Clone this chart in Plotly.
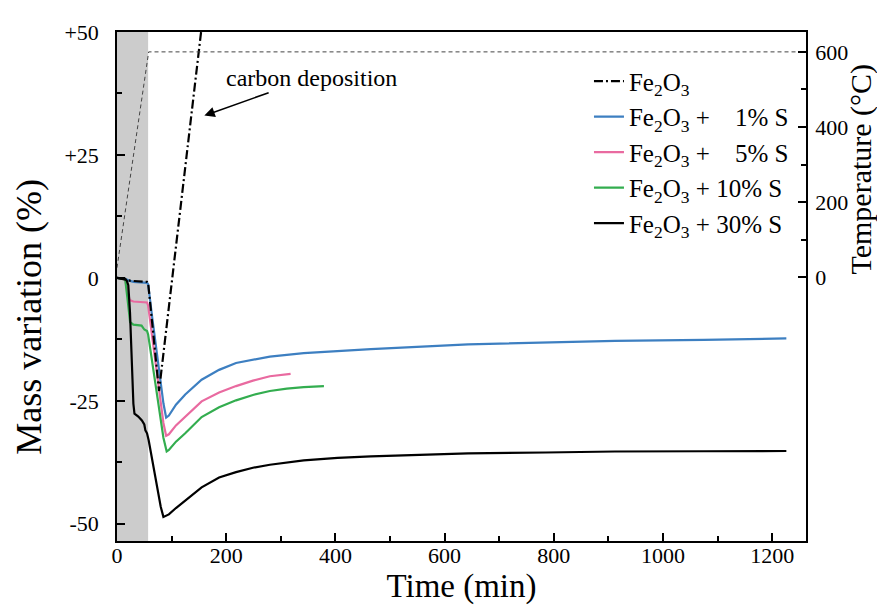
import plotly.graph_objects as go

# ---------------- data ----------------
# Temperature programme (right axis, °C)
temp_t = [0, 58, 1262]
temp_c = [25, 600, 600]

# Fe2O3 (dash-dot)
fe_t = [0, 15, 25, 55, 57, 77, 154]
fe_m = [0, -0.3, -0.6, -0.8, -1.0, -23.0, 50.0]

# Fe2O3 + 1% S
s1_t = [0, 15, 21, 30, 55, 57, 65, 75, 85, 90, 95, 108, 125, 155, 187, 218, 280, 342, 465, 643, 785, 912, 1075, 1226]
s1_m = [0, -0.2, -0.5, -0.8, -1.0, -1.3, -8.5, -17.5, -25.5, -28.4, -28.0, -25.8, -23.7, -20.7, -18.7, -17.3, -16.0, -15.3, -14.5, -13.5, -13.1, -12.8, -12.6, -12.3]

# Fe2O3 + 5% S
s5_t = [0, 15, 19, 23, 30, 55, 57, 65, 75, 85, 90, 95, 108, 125, 155, 187, 218, 249, 280, 318]
s5_m = [0, -0.3, -2.5, -4.5, -4.8, -5.0, -5.6, -12.5, -21.5, -29.5, -32.1, -31.8, -30.0, -28.3, -25.1, -23.3, -22.0, -20.9, -20.0, -19.5]

# Fe2O3 + 10% S
s10_t = [0, 15, 19, 24, 30, 45, 50, 55, 57, 65, 75, 85, 91, 95, 108, 125, 155, 187, 218, 249, 280, 311, 342, 379]
s10_m = [0, -0.3, -4.0, -9.0, -9.5, -9.7, -10.5, -10.8, -11.5, -17.5, -25.5, -32.5, -35.3, -35.0, -33.3, -31.6, -28.3, -26.3, -24.9, -23.8, -23.0, -22.5, -22.2, -22.0]

# Fe2O3 + 30% S
s30_t = [0, 15, 18, 20.7, 23.8, 26.9, 30, 32, 39, 45.6, 50, 52, 55, 58, 70, 80, 85, 95, 108, 125, 155, 187, 218, 249, 280, 342, 404, 465, 552, 643, 785, 912, 1075, 1226]
s30_m = [0, -0.2, -0.6, -1.5, -7.0, -17.0, -25.6, -27.6, -28.2, -29.0, -29.8, -31.0, -31.6, -33.0, -40.5, -46.5, -48.6, -48.1, -46.8, -45.3, -42.6, -40.6, -39.5, -38.6, -38.0, -37.1, -36.6, -36.3, -36.0, -35.7, -35.5, -35.3, -35.25, -35.2]

# shaded heating period (min)
heat_end = 57

# axis ticks
x_major = [0, 200, 400, 600, 800, 1000, 1200]
x_minor = [100, 300, 500, 700, 900, 1100]
y_major = [50, 25, 0, -25, -50]
y_labels = ["+50", "+25", "0", "-25", "-50"]
y_minor = [37.5, 12.5, -12.5, -37.5]
t_major = [0, 200, 400, 600]
t_minor = [100, 300, 500]

FONT = "Liberation Serif, Times New Roman, serif"
BLUE = "#3d7fc1"
PINK = "#e96aa0"
GREEN = "#33ad4f"
TICKFONT = 22

fig = go.Figure()

fig.add_trace(go.Scatter(x=temp_t, y=temp_c, yaxis="y2", mode="lines",
                         line=dict(color="#444444", width=1, dash="4px,3px"),
                         showlegend=False, hoverinfo="skip"))

fig.add_trace(go.Scatter(x=s1_t, y=s1_m, mode="lines", line=dict(color=BLUE, width=2.2),
                         name="Fe<sub>2</sub>O<sub>3</sub> +\u00a0\u00a0\u00a0 1% S", legendrank=2))
fig.add_trace(go.Scatter(x=s5_t, y=s5_m, mode="lines", line=dict(color=PINK, width=2.2),
                         name="Fe<sub>2</sub>O<sub>3</sub> +\u00a0\u00a0\u00a0 5% S", legendrank=3))
fig.add_trace(go.Scatter(x=s10_t, y=s10_m, mode="lines", line=dict(color=GREEN, width=2.2),
                         name="Fe<sub>2</sub>O<sub>3</sub> + 10% S", legendrank=4))
fig.add_trace(go.Scatter(x=s30_t, y=s30_m, mode="lines", line=dict(color="black", width=2.2),
                         name="Fe<sub>2</sub>O<sub>3</sub> + 30% S", legendrank=5))
fig.add_trace(go.Scatter(x=fe_t, y=fe_m, mode="lines",
                         line=dict(color="black", width=2.2, dash="9px,3px,2px,3px"),
                         name="Fe<sub>2</sub>O<sub>3</sub>", legendrank=1))

fig.add_shape(type="rect", xref="x", yref="paper", x0=0, x1=heat_end, y0=0, y1=1,
              fillcolor="#cccccc", line=dict(width=0), layer="below")

fig.add_annotation(x=160, y=33, ax=107, ay=-38, text="carbon deposition",
                   showarrow=True, arrowhead=2, arrowsize=1.3, arrowwidth=1.6,
                   arrowcolor="black", font=dict(family=FONT, size=24, color="black"),
                   standoff=0, startstandoff=2)

# axis titles (placed as in the reference)
fig.add_annotation(text="Mass variation (%)", xref="paper", yref="paper",
                   x=-0.128, y=0.44, textangle=-90, showarrow=False,
                   xanchor="center", yanchor="middle",
                   font=dict(family=FONT, size=36, color="black"))
fig.add_annotation(text="Temperature (°C)", xref="paper", yref="paper",
                   x=1.08, y=0.73, textangle=-90, showarrow=False,
                   xanchor="center", yanchor="middle",
                   font=dict(family=FONT, size=30, color="black"))

fig.update_layout(
    width=885, height=605,
    margin=dict(l=109, r=87, t=20, b=72),
    paper_bgcolor="white", plot_bgcolor="white",
    font=dict(family=FONT, size=TICKFONT, color="black"),
    showlegend=True,
    legend=dict(x=0.685, y=0.948, xanchor="left", yanchor="top",
                bgcolor="rgba(0,0,0,0)", font=dict(family=FONT, size=25),
                traceorder="normal"),
    xaxis=dict(range=[0, 1262], showline=True, linecolor="black", linewidth=1.5,
               mirror=True, showgrid=False, zeroline=False,
               tickmode="array", tickvals=x_major, ticks="inside", ticklen=8,
               tickwidth=1.5, tickcolor="black", ticklabelstandoff=-6,
               minor=dict(tickmode="array", tickvals=x_minor, ticks="inside", ticklen=5,
                          tickwidth=1.5, tickcolor="black"),
               tickfont=dict(size=TICKFONT),
               title=dict(text="Time (min)", font=dict(size=33), standoff=0)),
    yaxis=dict(range=[-53.5, 50], showline=True, linecolor="black", linewidth=1.5,
               showgrid=False, zeroline=False,
               tickmode="array", tickvals=y_major, ticktext=y_labels, ticks="inside",
               ticklen=8, tickwidth=1.5, tickcolor="black", ticklabelstandoff=12,
               minor=dict(tickmode="array", tickvals=y_minor, ticks="inside", ticklen=5,
                          tickwidth=1.5, tickcolor="black"),
               tickfont=dict(size=TICKFONT)),
    yaxis2=dict(range=[-703, 653], overlaying="y", side="right", showline=True,
                linecolor="black", linewidth=1.5, showgrid=False, zeroline=False,
                tickmode="array", tickvals=t_major, ticks="inside", ticklen=8,
                tickwidth=1.5, tickcolor="black", ticklabelstandoff=3,
                minor=dict(tickmode="array", tickvals=t_minor, ticks="inside", ticklen=5,
                           tickwidth=1.5, tickcolor="black"),
                tickfont=dict(size=TICKFONT)),
)

fig.write_html("out.html")
